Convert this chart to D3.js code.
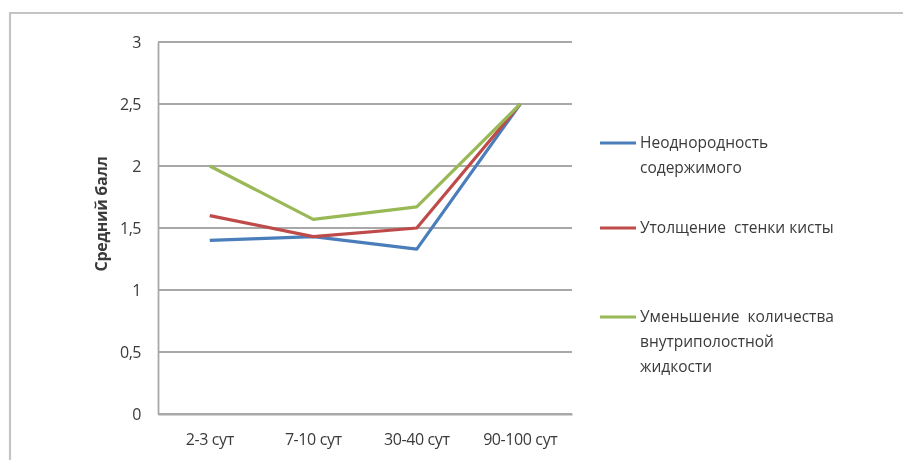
<!DOCTYPE html>
<html>
<head>
<meta charset="utf-8">
<script src="https://cdn.jsdelivr.net/npm/d3@7"></script>
<style>
  html, body { margin: 0; padding: 0; background: #fff; }
  svg { display: block; }
  text { font-family: "Open Sans", "Noto Sans", sans-serif; fill: #3a3a3a; white-space: pre; }
</style>
</head>
<body>
<svg id="chart" width="903" height="460"></svg>
<script>
// Periods after treatment
const categories = ["2-3 сут", "7-10 сут", "30-40 сут", "90-100 сут"];

// Average score per sign
const heterogeneity = [1.40, 1.43, 1.33, 2.50];
const wallThickening = [1.60, 1.43, 1.50, 2.50];
const fluidDecrease = [2.00, 1.57, 1.67, 2.50];

const seriesNames = [
  ["Неоднородность", "содержимого"],
  ["Утолщение  стенки кисты"],
  ["Уменьшение  количества", "внутриполостной", "жидкости"]
];
const seriesColors = ["#4a7ebb", "#be4b48", "#98b954"];

const yTicks = [0, 0.5, 1, 1.5, 2, 2.5, 3];
const yTickLabels = ["0", "0,5", "1", "1,5", "2", "2,5", "3"];
const yTitle = "Средний балл";

const series = [heterogeneity, wallThickening, fluidDecrease];

const svg = d3.select("#chart");

// soft rendering of the whole chart
const defs = svg.append("defs");
defs.append("filter").attr("id", "soft")
  .append("feGaussianBlur").attr("stdDeviation", 0.55);

const root = svg.append("g").attr("filter", "url(#soft)");

// outer frame (top and left edges)
root.append("path")
  .attr("d", "M10,460 V13 H903")
  .attr("fill", "none")
  .attr("stroke", "#c4c4c4")
  .attr("stroke-width", 2.2);

const plot = { left: 158, right: 572, top: 42, bottom: 414 };

const x = d3.scaleBand()
  .domain(categories)
  .range([plot.left, plot.right]);

const y = d3.scaleLinear()
  .domain([0, 3])
  .range([plot.bottom, plot.top]);

// horizontal gridlines
root.append("g")
  .selectAll("line")
  .data(yTicks)
  .join("line")
  .attr("x1", plot.left)
  .attr("x2", plot.right)
  .attr("y1", d => y(d))
  .attr("y2", d => y(d))
  .attr("stroke", "#a8a8a8")
  .attr("stroke-width", 1.8);

// y axis
const yAxis = root.append("g")
  .attr("transform", `translate(${plot.left},0)`)
  .call(d3.axisLeft(y).tickValues(yTicks)
    .tickFormat((d, i) => yTickLabels[i]).tickSize(0).tickPadding(17));
yAxis.select(".domain").attr("stroke", "#a8a8a8").attr("stroke-width", 1.8);
yAxis.selectAll("text")
  .style("font-size", "16px")
  .style("letter-spacing", "-0.5px")
  .attr("fill", "#3a3a3a")
  .attr("dy", "0.32em");

// x axis
const xAxis = root.append("g")
  .attr("transform", `translate(0,${plot.bottom})`)
  .call(d3.axisBottom(x).tickSize(0).tickPadding(20));
xAxis.select(".domain").attr("stroke", "#a8a8a8").attr("stroke-width", 1.8);
xAxis.selectAll("text")
  .style("font-size", "16px")
  .style("letter-spacing", "-0.4px")
  .attr("fill", "#3a3a3a");

// y axis title
root.append("text")
  .attr("transform", `translate(101,214) rotate(-90)`)
  .attr("text-anchor", "middle")
  .attr("dy", "0.35em")
  .style("font-size", "16px")
  .style("font-weight", "bold")
  .style("letter-spacing", "-0.3px")
  .attr("fill", "#2a2a2a")
  .text(yTitle);

// series lines
const line = d3.line()
  .x((d, i) => x(categories[i]) + x.bandwidth() / 2)
  .y(d => y(d));

root.append("g")
  .selectAll("path")
  .data(series)
  .join("path")
  .attr("d", d => line(d))
  .attr("fill", "none")
  .attr("stroke", (d, i) => seriesColors[i])
  .attr("stroke-width", 3.2)
  .attr("stroke-linejoin", "round");

// legend
const legendTop = [143, 228, 317];
const legend = root.append("g");
seriesNames.forEach((lines, i) => {
  const g = legend.append("g").attr("transform", `translate(600,${legendTop[i]})`);
  g.append("line")
    .attr("x1", 0).attr("x2", 36)
    .attr("y1", 0).attr("y2", 0)
    .attr("stroke", seriesColors[i])
    .attr("stroke-width", 3.2);
  lines.forEach((t, j) => {
    g.append("text")
      .attr("x", 40)
      .attr("y", j * 25)
      .attr("dy", "0.35em")
      .style("font-size", "15.5px")
      .attr("fill", "#3a3a3a")
      .text(t);
  });
});
</script>
</body>
</html>
